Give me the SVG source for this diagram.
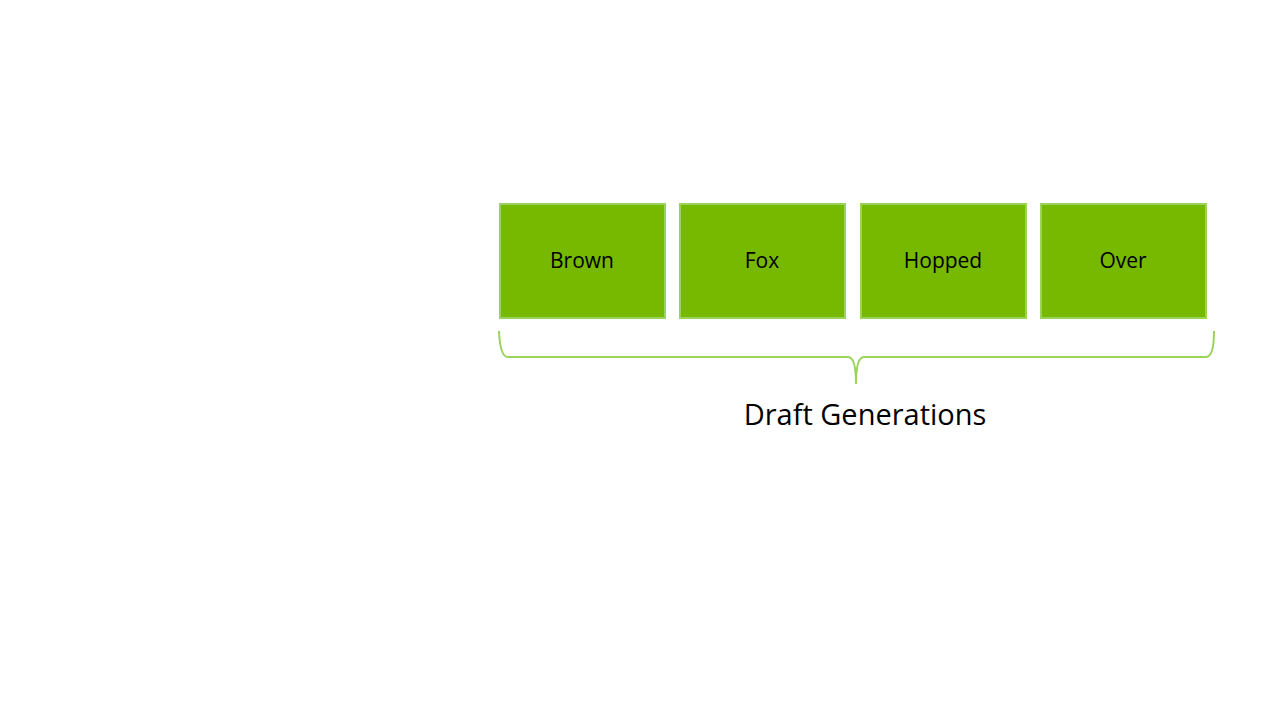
<svg xmlns="http://www.w3.org/2000/svg" width="1280" height="720" viewBox="0 0 1280 720">
<style>
.box{fill:#76b900;stroke:#9ad35a;stroke-width:2}
.lbl{font-family:"Open Sans","Liberation Sans",sans-serif;font-size:21px;fill:#000;text-anchor:middle}
</style>
<rect width="1280" height="720" fill="#fff"/>
<g id="brown"><rect class="box" x="500" y="204" width="165" height="114"/><text class="lbl" x="582" y="268">Brown</text></g>
<g id="fox"><rect class="box" x="680" y="204" width="165" height="114"/><text class="lbl" x="762" y="268">Fox</text></g>
<g id="hopped"><rect class="box" x="861" y="204" width="165" height="114"/><text class="lbl" x="943" y="268">Hopped</text></g>
<g id="over"><rect class="box" x="1041" y="204" width="165" height="114"/><text class="lbl" x="1123" y="268">Over</text></g>
<g id="connectors"><path d="M499 331 Q500 357 508 357 L848 357 Q856 357 856 384 Q856 357 864 357 L1206 357 Q1214 357 1214 331" fill="none" stroke="#9ad35a" stroke-width="2"/></g>
<text x="865" y="425" font-family="'Open Sans','Liberation Sans',sans-serif" font-size="29" text-anchor="middle" fill="#000">Draft Generations</text>
</svg>
